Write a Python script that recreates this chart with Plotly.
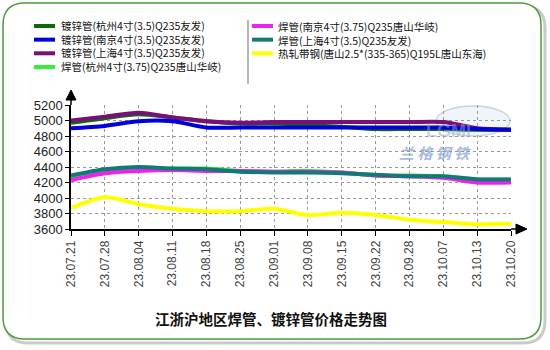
import plotly.graph_objects as go

dates = ["23.07.21", "23.07.28", "23.08.04", "23.08.11", "23.08.18", "23.08.25", "23.09.01",
         "23.09.08", "23.09.15", "23.09.22", "23.09.28", "23.10.07", "23.10.13", "23.10.20"]

hz_dx = [4970, 5030, 5080, 5040, 4990, 4960, 4960, 4940, 4920, 4890, 4890, 4890, 4880, 4880]
nj_dx = [4900, 4930, 4990, 4990, 4910, 4910, 4910, 4910, 4910, 4910, 4910, 4910, 4890, 4880]
sh_dx = [5000, 5050, 5100, 5040, 4990, 4970, 4980, 4980, 4980, 4980, 4980, 4980, 4900, 4880]
hz_hg = [4260, 4360, 4390, 4380, 4380, 4350, 4340, 4350, 4330, 4290, 4290, 4280, 4240, 4240]
nj_hg = [4230, 4320, 4350, 4360, 4350, 4350, 4340, 4340, 4330, 4290, 4280, 4260, 4200, 4200]
sh_hg = [4290, 4370, 4400, 4380, 4370, 4340, 4330, 4330, 4320, 4300, 4280, 4280, 4240, 4240]
rz_dg = [3870, 4010, 3920, 3860, 3830, 3830, 3860, 3780, 3810, 3780, 3720, 3690, 3660, 3670]

names = {
    "hz_dx": "镀锌管(杭州4寸(3.5)Q235友发)",
    "nj_dx": "镀锌管(南京4寸(3.5)Q235友发)",
    "sh_dx": "镀锌管(上海4寸(3.5)Q235友发)",
    "hz_hg": "焊管(杭州4寸(3.75)Q235唐山华岐)",
    "nj_hg": "焊管(南京4寸(3.75)Q235唐山华岐)",
    "sh_hg": "焊管(上海4寸(3.5)Q235友发)",
    "rz_dg": "热轧带钢(唐山2.5*(335-365)Q195L唐山东海)",
}
colors = {
    "hz_dx": "#0b6b0b", "nj_dx": "#0000dd", "sh_dx": "#7a0f7a", "hz_hg": "#33ee33",
    "nj_hg": "#ee22ee", "sh_hg": "#147878", "rz_dg": "#ffff00",
}
data = {"hz_dx": hz_dx, "nj_dx": nj_dx, "sh_dx": sh_dx, "hz_hg": hz_hg,
        "nj_hg": nj_hg, "sh_hg": sh_hg, "rz_dg": rz_dg}

W, H = 550, 350
L, R, T, B = 71, 39, 105, 121
PW, PH = W - L - R, H - T - B


def px(x):
    return (x - L) / PW


def py(y):
    return (H - B - y) / PH


fig = go.Figure()
draw_order = ["rz_dg", "hz_hg", "nj_hg", "sh_hg", "hz_dx", "sh_dx", "nj_dx"]
for k in draw_order:
    fig.add_trace(go.Scatter(
        x=dates, y=data[k], mode="lines", name=names[k],
        line=dict(color=colors[k], width=4, shape="spline", smoothing=0.8),
        showlegend=False, hoverinfo="skip"))

shapes = []
annotations = []


def rounded(x0, y0, x1, y1, r):
    pts = [
        ("M", [(x0 + r, y0)]), ("L", [(x1 - r, y0)]), ("Q", [(x1, y0), (x1, y0 + r)]),
        ("L", [(x1, y1 - r)]), ("Q", [(x1, y1), (x1 - r, y1)]), ("L", [(x0 + r, y1)]),
        ("Q", [(x0, y1), (x0, y1 - r)]), ("L", [(x0, y0 + r)]), ("Q", [(x0, y0), (x0 + r, y0)]),
    ]
    s = ""
    for cmd, ps in pts:
        s += cmd + " " + " ".join(f"{px(a):.5f},{py(b):.5f}" for a, b in ps) + " "
    return s + "Z"


shapes.append(dict(type="path", xref="paper", yref="paper", path=rounded(6, 6, 545, 343, 22),
                   line=dict(color="rgba(150,150,150,0.5)", width=3), layer="below"))
shapes.append(dict(type="path", xref="paper", yref="paper", path=rounded(3, 3, 541, 339, 22),
                   line=dict(color="#4c9a3c", width=1.5), fillcolor="white", layer="below"))

# legend separator
shapes.append(dict(type="line", xref="paper", yref="paper", x0=px(248), x1=px(248), y0=py(20), y1=py(84),
                   line=dict(color="rgba(90,90,90,0.6)", width=1.5)))

# manual legend: one multi-line text block per column
left = ["hz_dx", "nj_dx", "sh_dx", "hz_hg"]
right = ["nj_hg", "sh_hg", "rz_dg"]
FS = 10.5
LS = FS * 1.3
top_row = 26
for col, (sx0, sx1, tx) in ((left, (34, 55, 59)), (right, (252, 273, 276))):
    n = len(col)
    for i, k in enumerate(col):
        yy = top_row + i * LS
        shapes.append(dict(type="line", xref="paper", yref="paper", x0=px(sx0), x1=px(sx1),
                           y0=py(yy), y1=py(yy), line=dict(color=colors[k], width=4)))
    center = top_row + (n - 1) * LS / 2
    annotations.append(dict(text="<br>".join(names[k] for k in col), xref="paper", yref="paper",
                            x=px(tx), y=py(center), xanchor="left", yanchor="middle", align="left",
                            showarrow=False,
                            font=dict(family="Noto Sans CJK SC", size=FS, color="#111")))

# axis arrows
shapes.append(dict(type="line", xref="paper", yref="paper", x0=0, x1=0, y0=1, y1=py(99),
                   line=dict(color="black", width=1.5)))
shapes.append(dict(type="path", xref="paper", yref="paper",
                   path=f"M {px(66):.5f},{py(100):.5f} L {px(76):.5f},{py(100):.5f} L {px(71):.5f},{py(90):.5f} Z",
                   fillcolor="black", line=dict(color="black", width=1)))
shapes.append(dict(type="line", xref="paper", yref="paper", x0=1, x1=px(516), y0=0, y1=0,
                   line=dict(color="black", width=1.5)))
shapes.append(dict(type="path", xref="paper", yref="paper",
                   path=f"M {px(516):.5f},{py(224):.5f} L {px(516):.5f},{py(234):.5f} L {px(527):.5f},{py(229):.5f} Z",
                   fillcolor="black", line=dict(color="black", width=1)))

# watermark logo
shapes.append(dict(type="circle", xref="paper", yref="paper", x0=px(436), x1=px(510), y0=py(136), y1=py(106),
                   line=dict(color="rgba(160,180,210,0.55)", width=1.5), fillcolor="rgba(225,232,242,0.45)",
                   layer="below"))
annotations.append(dict(text="<b>LGMI</b>", xref="paper", yref="paper", x=px(473), y=py(119), showarrow=False,
                        font=dict(family="Liberation Sans", size=18, color="rgba(150,170,205,0.5)")))
annotations.append(dict(text="<b><i>兰 格 钢 铁</i></b>", xref="paper", yref="paper", x=px(473), y=py(152),
                        showarrow=False,
                        font=dict(family="Noto Sans CJK SC", size=15, color="rgba(130,155,200,0.7)")))

# title
annotations.append(dict(text="<b>江浙沪地区焊管、镀锌管价格走势图</b>", xref="paper", yref="paper",
                        x=px(271), y=py(318), xanchor="center", yanchor="middle", showarrow=False,
                        font=dict(family="Noto Sans CJK SC", size=14.5, color="#111")))

fig.update_layout(
    width=W, height=H,
    margin=dict(l=L, r=R, t=T, b=B, pad=0),
    paper_bgcolor="white", plot_bgcolor="rgba(0,0,0,0)",
    shapes=shapes, annotations=annotations, showlegend=False,
    xaxis=dict(type="category", range=[0, len(dates) - 1], tickangle=-90, showgrid=True,
               gridcolor="#999", griddash="dot", gridwidth=1, showline=True, linecolor="black",
               linewidth=1.5, ticks="outside", ticklen=5, tickcolor="black",
               tickfont=dict(family="Liberation Sans", size=12, color="#444"), zeroline=False),
    yaxis=dict(range=[3600, 5200], dtick=200, showgrid=True, gridcolor="#999", griddash="dot",
               gridwidth=1, showline=True, linecolor="black", linewidth=1.5, ticks="outside",
               ticklen=4, tickcolor="black",
               tickfont=dict(family="Liberation Sans", size=13, color="#222"), zeroline=False),
)

fig.write_html("out.html")
